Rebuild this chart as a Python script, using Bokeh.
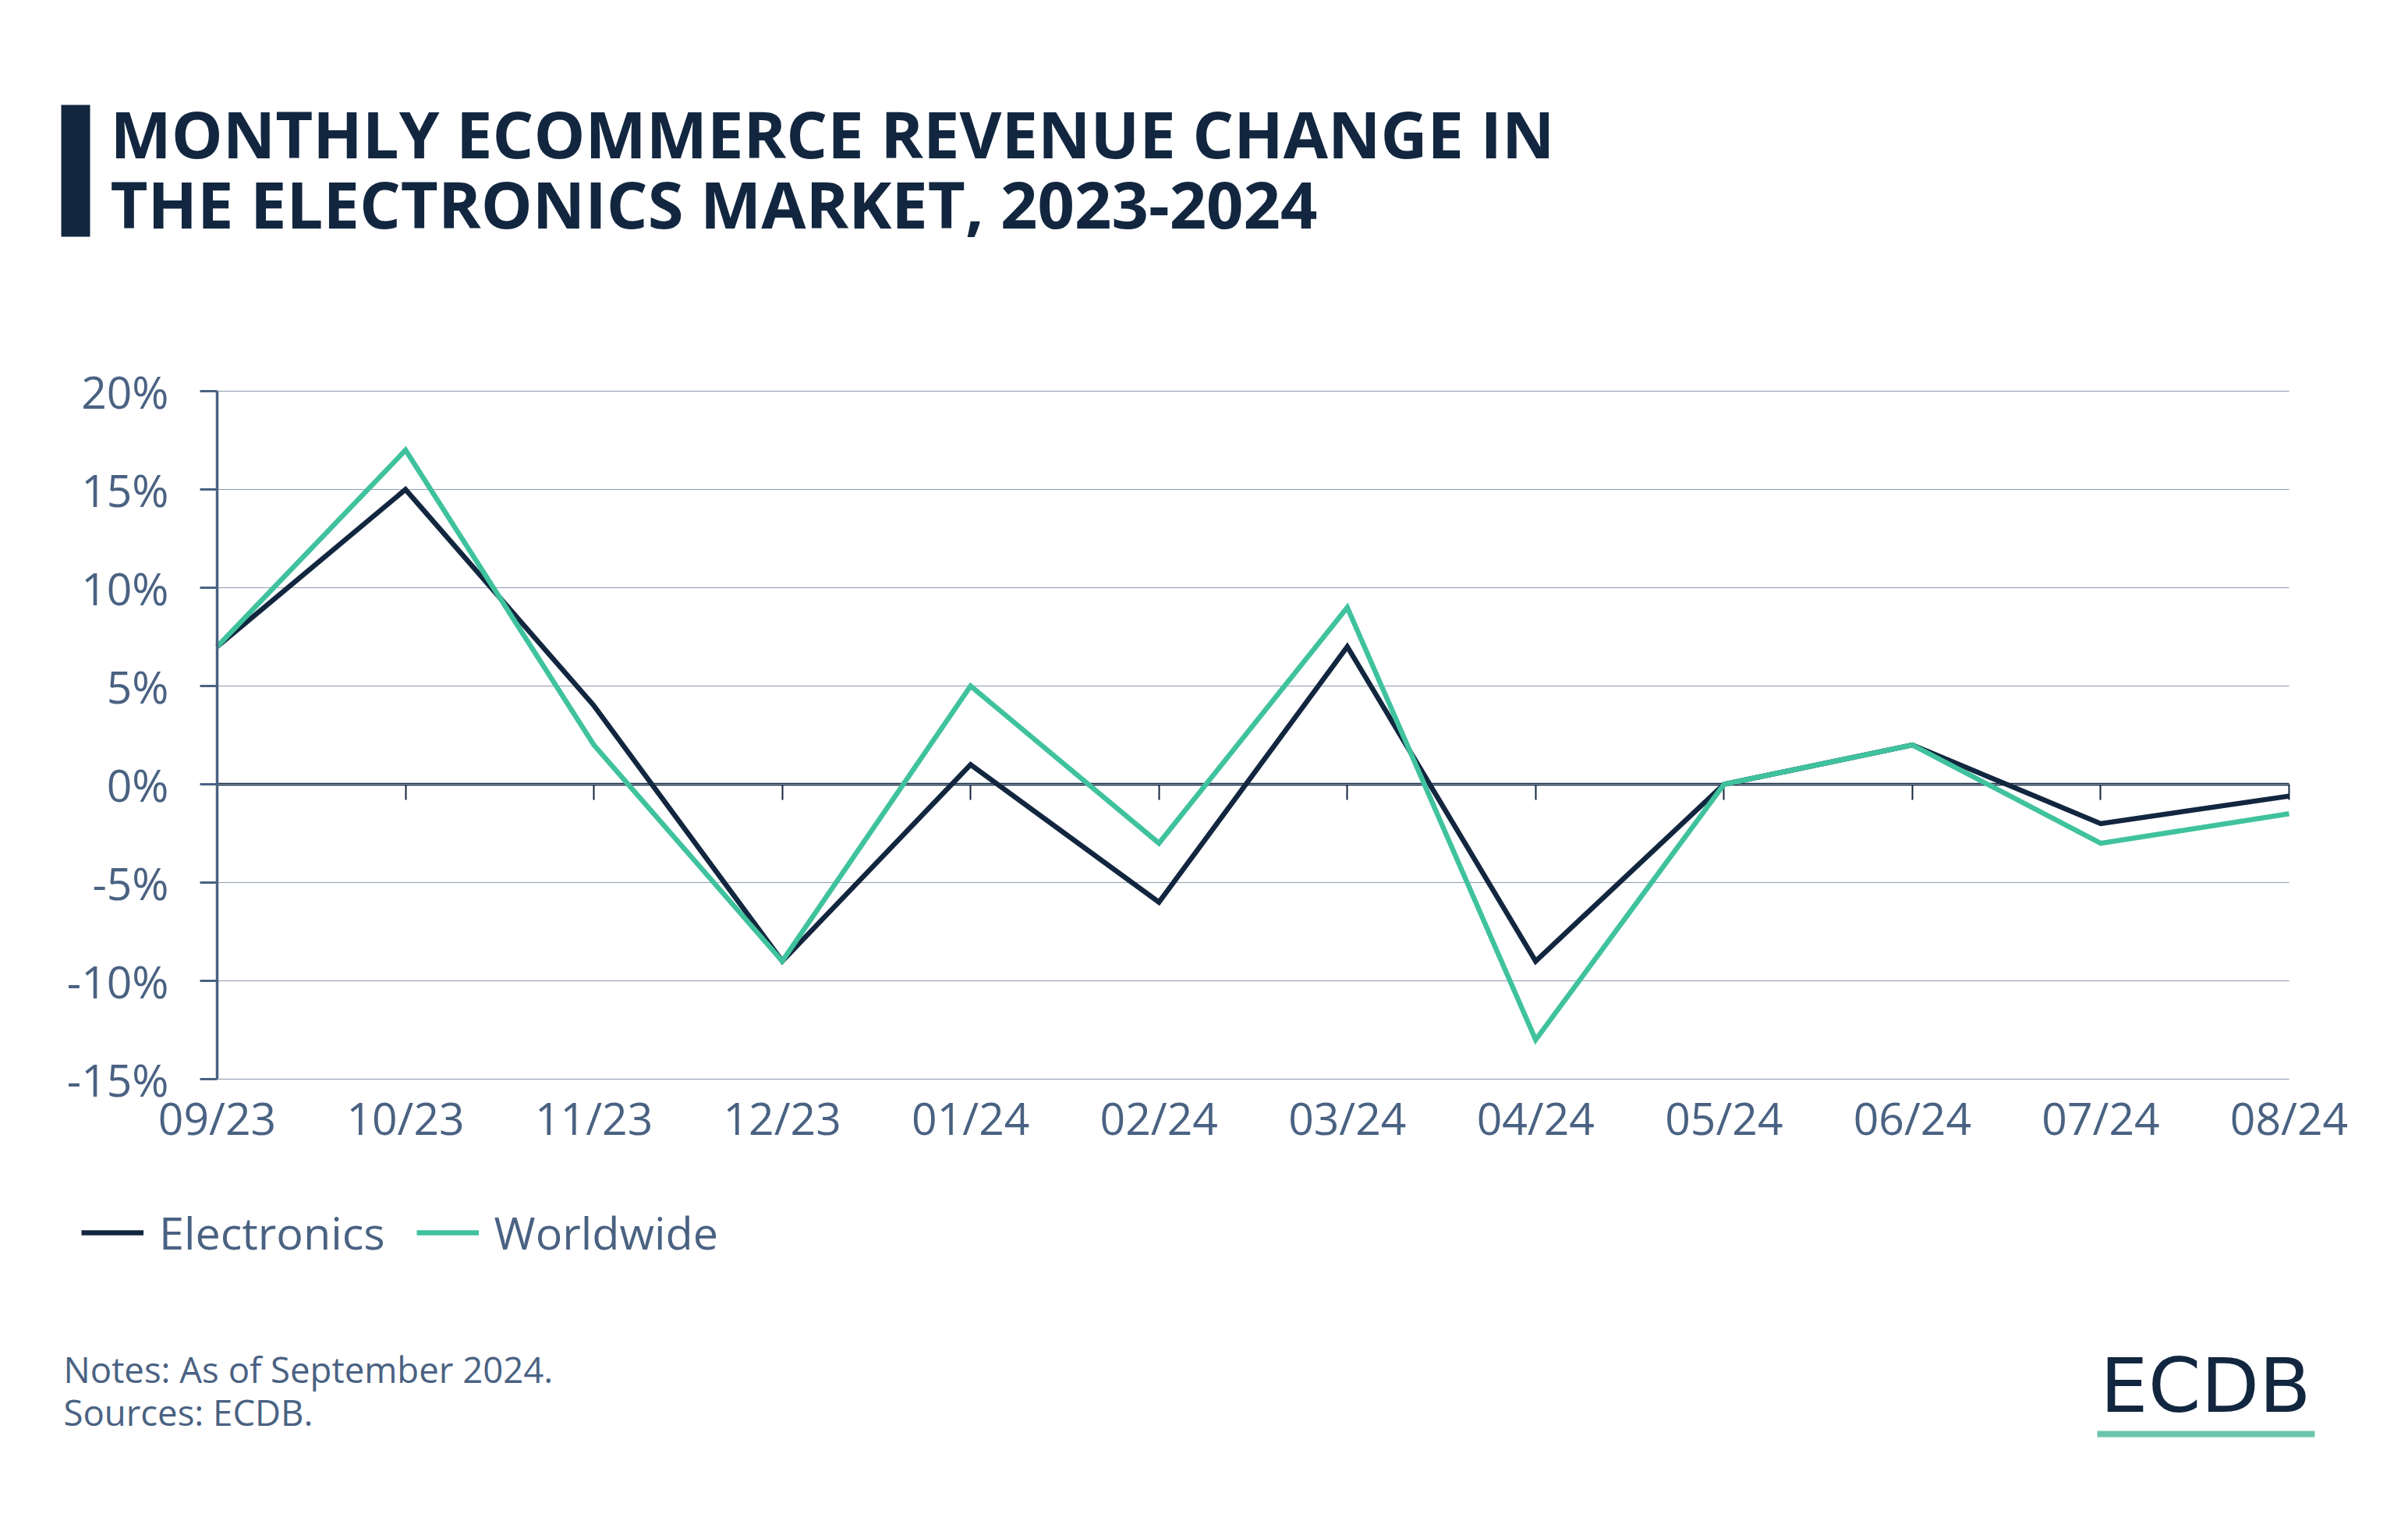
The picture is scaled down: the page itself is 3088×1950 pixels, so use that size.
from bokeh.plotting import figure
from bokeh.models import (Range1d, FixedTicker, LinearAxis, PrintfTickFormatter, Label,
                          BoxAnnotation, Legend, LegendItem, Grid)
from bokeh.embed import file_html
from bokeh.resources import INLINE

# ---------------- data ----------------
months = ["09/23", "10/23", "11/23", "12/23", "01/24", "02/24",
          "03/24", "04/24", "05/24", "06/24", "07/24", "08/24"]
electronics = [7, 15, 4, -9, 1, -6, 7, -9, 0, 2, -2, -0.6]
worldwide = [7, 17, 2, -9, 5, -3, 9, -13, 0, 2, -3, -1.5]
y_ticks = [-15, -10, -5, 0, 5, 10, 15, 20]
series_names = ["Electronics", "Worldwide"]

title_lines = ["MONTHLY ECOMMERCE REVENUE CHANGE IN",
               "THE ELECTRONICS MARKET, 2023-2024"]
notes_lines = ["Notes: As of September 2024.", "Sources: ECDB."]
logo_text = "ECDB"

# ---------------- style / layout ----------------
NAVY = "#12263f"
GREEN = "#3fc29d"
SLATE = "#4a6282"
GRID = "#8e9aad"
FONT = "Open Sans"
LW = 6.5

W, H = 3072, 1934
# plot area inside the canvas (pixels from canvas top-left)
PL, PR, PT, PB = 278, 2935, 501, 1383

n = len(months)
y_lo, y_hi = min(y_ticks), max(y_ticks)
ux = (PR - PL) / (n - 1)
uy = (PB - PT) / (y_hi - y_lo)
x_range = Range1d(0 - PL / ux, (n - 1) + (W - PR) / ux)
y_range = Range1d(y_lo - (H - PB) / uy, y_hi + PT / uy)

p = figure(width=W, height=H, output_backend="svg", toolbar_location=None,
           x_range=x_range, y_range=y_range,
           min_border_left=0, min_border_right=0, min_border_top=0, min_border_bottom=0,
           x_axis_type=None, y_axis_type=None)
p.outline_line_color = None
p.background_fill_color = "white"
p.border_fill_color = "white"

x_idx = list(range(n))

p.add_layout(Grid(dimension=1, ticker=FixedTicker(ticks=y_ticks),
                  bounds=(y_lo, y_hi), cross_bounds=(0, n - 1),
                  grid_line_color=GRID, grid_line_width=1.2))

# y axis
yax = LinearAxis(ticker=FixedTicker(ticks=y_ticks), formatter=PrintfTickFormatter(format="%d%%"),
                 fixed_location=0, bounds=(y_lo, y_hi))
yax.axis_line_color = SLATE
yax.axis_line_width = 3.5
yax.major_tick_line_color = SLATE
yax.major_tick_line_width = 3
yax.major_tick_out = 22
yax.major_tick_in = 0
yax.minor_tick_line_color = None
yax.major_label_standoff = 40
yax.major_label_text_font = FONT
yax.major_label_text_font_size = "57px"
yax.major_label_text_color = SLATE
p.add_layout(yax, "left")

# x labels along the bottom of the plot area
xax = LinearAxis(ticker=FixedTicker(ticks=x_idx), fixed_location=y_lo, bounds=(0, n - 1),
                 major_label_overrides={i: m for i, m in enumerate(months)})
xax.axis_line_color = None
xax.major_tick_line_color = None
xax.minor_tick_line_color = None
xax.major_label_standoff = 4
xax.major_label_text_font = FONT
xax.major_label_text_font_size = "57px"
xax.major_label_text_color = SLATE
p.add_layout(xax, "below")

# zero line with ticks
zax = LinearAxis(ticker=FixedTicker(ticks=x_idx), fixed_location=0, bounds=(0, n - 1))
zax.axis_line_color = NAVY
zax.axis_line_width = 3.5
zax.major_tick_line_color = NAVY
zax.major_tick_line_width = 2
zax.major_tick_out = 20
zax.major_tick_in = 0
zax.minor_tick_line_color = None
zax.major_label_text_font_size = "0px"
zax.major_label_text_alpha = 0
zax.level = "underlay"
p.add_layout(zax, "below")

r1 = p.line(x_idx, electronics, line_color=NAVY, line_width=LW, line_join="miter")
r2 = p.line(x_idx, worldwide, line_color=GREEN, line_width=LW, line_join="miter")

legend = Legend(items=[LegendItem(label=series_names[0], renderers=[r1]),
                       LegendItem(label=series_names[1], renderers=[r2])],
                orientation="horizontal", location=(104, 314),
                label_text_font=FONT, label_text_font_size="57.5px", label_text_color=SLATE,
                glyph_width=80, glyph_height=80, label_height=80, label_standoff=20, spacing=40,
                padding=0, margin=0, border_line_alpha=0, background_fill_alpha=0)
p.add_layout(legend)

# title bar + title (screen units measured from canvas bottom-left)
p.add_layout(BoxAnnotation(left=78, right=115, bottom=1631, top=1800,
                           left_units="screen", right_units="screen",
                           bottom_units="screen", top_units="screen",
                           fill_color=NAVY, fill_alpha=1, line_alpha=0))
for i, t in enumerate(title_lines):
    p.add_layout(Label(x=141, y=1764 - 90 * i, x_units="screen", y_units="screen", text=t,
                       text_font=FONT, text_font_style="bold", text_font_size="83px",
                       text_color=NAVY, text_align="left", text_baseline="alphabetic"))

# notes
for i, t in enumerate(notes_lines):
    p.add_layout(Label(x=81, y=180 - 55 * i, x_units="screen", y_units="screen", text=t,
                       text_font=FONT, text_font_size="45.5px",
                       text_color=SLATE, text_align="left", text_baseline="alphabetic"))

# logo
p.add_layout(Label(x=2828, y=158, x_units="screen", y_units="screen", text=logo_text,
                   text_font="DejaVu Sans", text_font_size="97px",
                   text_color=NAVY, text_align="center", text_baseline="alphabetic"))
p.add_layout(BoxAnnotation(left=2689, right=2968, bottom=92, top=100,
                           left_units="screen", right_units="screen",
                           bottom_units="screen", top_units="screen",
                           fill_color="#6cc4ad", fill_alpha=1, line_alpha=0))

open("out.html", "w").write(file_html(p, INLINE))
